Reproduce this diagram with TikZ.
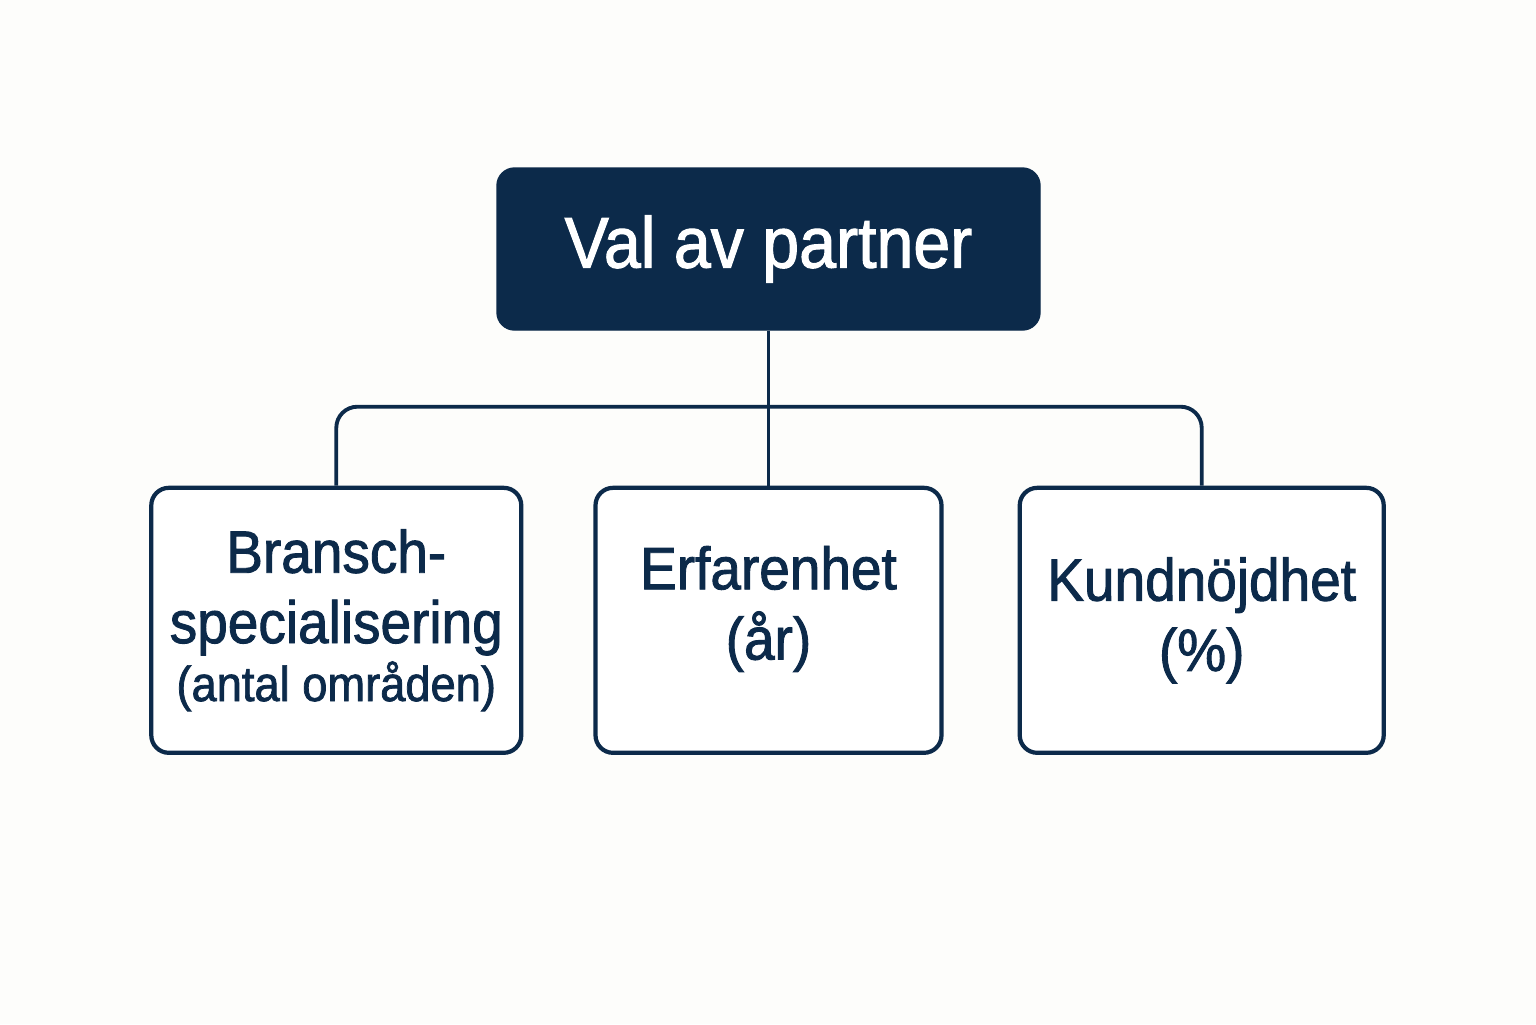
\documentclass[tikz,border=0pt]{standalone}
\usepackage{fontspec}
\setmainfont{Liberation Sans}[FakeStretch=0.92,FakeBold=1.5]
\usepackage{xcolor}
\usetikzlibrary{positioning}
\definecolor{navy}{HTML}{0C2A4A}
\definecolor{paper}{HTML}{FDFDFB}
\tikzset{
  topbox/.style={
    fill=navy,
    draw=navy,
    rounded corners=5pt,
    minimum width=5.43cm,
    minimum height=1.62cm,
    text=white,
    font=\fontsize{20.5}{24}\selectfont
  },
  critbox/.style={
    draw=navy,
    fill=white,
    rounded corners=5pt,
    minimum height=2.65cm,
    inner sep=0pt,
    align=center,
    text=navy,
    line width=1.2pt,
    font=\fontsize{17}{20}\selectfont
  },
  link/.style={draw=navy, line width=1.1pt, rounded corners=6pt}
}

\begin{document}
\begin{tikzpicture}[node distance=0.7cm]
  \fill[paper] (0,0) rectangle (15.36,-10.24);
  \useasboundingbox (0,0) rectangle (15.36,-10.24);

  \node[topbox] (partner) at (7.685,-2.49) {Val av partner};

  \node[critbox, minimum width=3.46cm, below=1.55cm of partner] (erfarenhet) {Erfarenhet\\(år)\\[-10pt]};
  \node[critbox, minimum width=3.70cm, left=0.70cm of erfarenhet] (bransch) {Bransch-\\specialisering\\[-3.5pt]{\fontsize{14}{17}\selectfont (antal områden)}};
  \node[critbox, minimum width=3.64cm, right=0.74cm of erfarenhet] (kund) {Kundnöjdhet\\(\%)};

  \coordinate[below=0.76cm of partner] (bar);
  \draw[link] (bransch.north) |- (bar) -| (kund.north);
  \draw[link] (partner.south) -- (erfarenhet.north);
\end{tikzpicture}
\end{document}
